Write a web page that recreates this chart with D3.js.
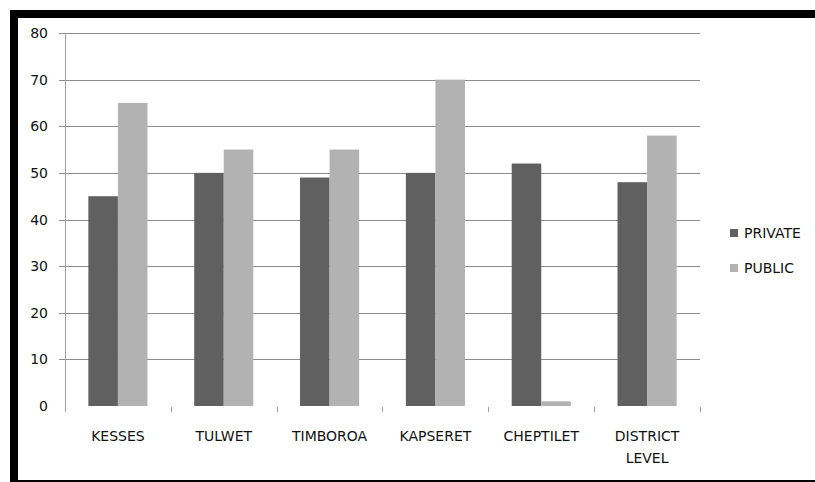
<!DOCTYPE html>
<html>
<head>
<meta charset="utf-8">
<script src="https://cdn.jsdelivr.net/npm/d3@7"></script>
<style>
  html, body { margin: 0; padding: 0; background: #fff; }
  svg { display: block; font-family: "DejaVu Sans", sans-serif; }
</style>
</head>
<body>
<svg id="chart" width="815" height="482"></svg>
<script>
// Regions and the two series
const categories = ["KESSES", "TULWET", "TIMBOROA", "KAPSERET", "CHEPTILET", "DISTRICT LEVEL"];
const privateValues = [45, 50, 49, 50, 52, 48];
const publicValues = [65, 55, 55, 70, 1, 58];
const seriesNames = ["PRIVATE", "PUBLIC"];
const seriesColors = ["#606060", "#b2b2b2"];
const yTicks = [0, 10, 20, 30, 40, 50, 60, 70, 80];

const svg = d3.select("#chart");

// Frame around the chart
svg.append("rect").attr("x", 10).attr("y", 10).attr("width", 805).attr("height", 8).attr("fill", "#000");
svg.append("rect").attr("x", 10).attr("y", 10).attr("width", 8).attr("height", 472).attr("fill", "#000");
svg.append("rect").attr("x", 10).attr("y", 480).attr("width", 805).attr("height", 2).attr("fill", "#000");

const plot = { left: 65, right: 700, top: 33, bottom: 406 };

const x = d3.scaleBand().domain(categories).range([plot.left, plot.right]).paddingInner(0).paddingOuter(0);
const xInner = d3.scaleBand().domain(seriesNames).range([0, x.bandwidth()]).paddingInner(0).paddingOuter(0.79);
const y = d3.scaleLinear().domain([0, 80]).range([plot.bottom, plot.top]);

// Horizontal gridlines (the zero line is left blank)
svg.append("g").selectAll("line").data(yTicks.filter(d => d > 0)).join("line")
  .attr("x1", plot.left - 6).attr("x2", plot.right)
  .attr("y1", d => Math.round(y(d)) + 0.5).attr("y2", d => Math.round(y(d)) + 0.5)
  .attr("stroke", "#8c8c8c").attr("stroke-width", 1);

// Y tick labels
svg.append("g").selectAll("text").data(yTicks).join("text")
  .attr("x", 48).attr("y", d => y(d) + 5)
  .attr("text-anchor", "end").attr("font-size", 14).attr("fill", "#111")
  .text(d => d);

// Vertical axis line
svg.append("line").attr("x1", plot.left + 0.5).attr("x2", plot.left + 0.5)
  .attr("y1", plot.top).attr("y2", plot.bottom + 6).attr("stroke", "#a0a0a0");

// Category boundary ticks
const bounds = categories.map(c => x(c) + x.bandwidth());
svg.append("g").selectAll("line").data(bounds).join("line")
  .attr("x1", d => Math.round(d) + 0.5).attr("x2", d => Math.round(d) + 0.5)
  .attr("y1", plot.bottom + 1).attr("y2", plot.bottom + 6)
  .attr("stroke", "#a0a0a0");

// Bars
const rows = categories.map((c, i) => ({ cat: c, vals: [privateValues[i], publicValues[i]] }));
const groups = svg.append("g").selectAll("g").data(rows).join("g")
  .attr("transform", d => `translate(${x(d.cat)},0)`);
groups.selectAll("rect").data(d => d.vals.map((v, j) => ({ name: seriesNames[j], v, j }))).join("rect")
  .attr("x", d => xInner(d.name))
  .attr("width", xInner.bandwidth())
  .attr("y", d => y(d.v))
  .attr("height", d => y(0) - y(d.v))
  .attr("fill", d => seriesColors[d.j]);

// Category labels (wrapped onto two lines where needed)
const labels = svg.append("g").selectAll("text").data(categories).join("text")
  .attr("text-anchor", "middle").attr("font-size", 14).attr("fill", "#111")
  .attr("x", d => x(d) + x.bandwidth() / 2)
  .attr("y", 441);
labels.each(function(d) {
  const words = d.split(" ");
  const t = d3.select(this);
  words.forEach((w, i) => {
    t.append("tspan").attr("x", x(d) + x.bandwidth() / 2).attr("dy", i === 0 ? 0 : 22).text(w);
  });
});

// Legend
const legend = svg.append("g").selectAll("g").data(seriesNames).join("g")
  .attr("transform", (d, i) => `translate(730, ${229 + i * 35})`);
legend.append("rect").attr("x", 0).attr("y", 0).attr("width", 8).attr("height", 8)
  .attr("fill", (d, i) => seriesColors[i]);
legend.append("text").attr("x", 14).attr("y", 9).attr("font-size", 14).attr("fill", "#111")
  .text(d => d);
</script>
</body>
</html>
